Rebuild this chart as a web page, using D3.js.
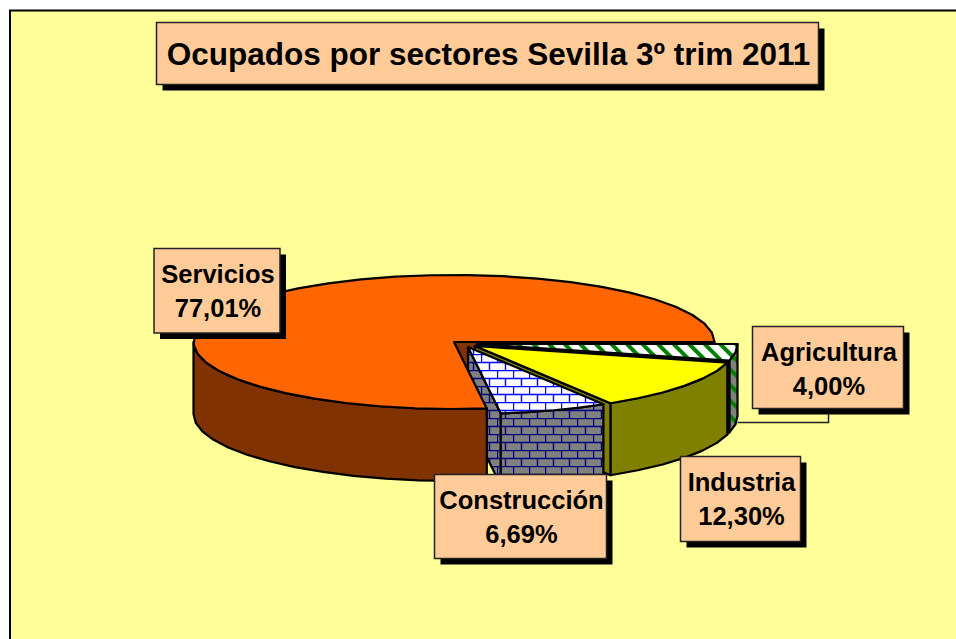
<!DOCTYPE html>
<html lang="es">
<head>
<meta charset="utf-8">
<style>
html,body{margin:0;padding:0;background:#fff;overflow:hidden}
svg{display:block}
text{font-family:"Liberation Sans",Arial,sans-serif;font-weight:bold;fill:#000}
</style>
<script src="https://cdn.jsdelivr.net/npm/d3@7"></script>
</head>
<body>
<script>
// Data, in clockwise order starting from the east side of the pie
const categories = ["Agricultura", "Industria", "Construcción", "Servicios"];
const shares = [4.00, 12.30, 6.69, 77.01];
const chartTitle = "Ocupados por sectores Sevilla 3º trim 2011";

const W = 956, H = 639;
const RX = 260.5, RY = 67, DEPTH = 72;
const apexes = [[477, 344], [475, 346], [468, 347], [454, 342]];
const boxes = [
  {x: 752.5, y: 326.5, w: 151, h: 82},
  {x: 680.5, y: 456.5, w: 120, h: 85},
  {x: 434.5, y: 474.5, w: 172, h: 84},
  {x: 154, y: 248.5, w: 126, h: 84.5}
];
const topFills = ["url(#stripeTop)", "#FFFF00", "url(#brickTop)", "#FF6600"];
const sideFills = ["url(#stripeSide)", "#808000", "url(#brickSide)", "#803300"];

const svg = d3.select("body").append("svg").attr("width", W).attr("height", H);
const defs = svg.append("defs");

function brick(id, bg, line) {
  const p = defs.append("pattern").attr("id", id).attr("patternUnits", "userSpaceOnUse")
    .attr("width", 16).attr("height", 16).attr("x", 1).attr("y", 2);
  p.append("rect").attr("width", 16).attr("height", 16).attr("fill", bg);
  p.append("path").attr("fill", "none").attr("stroke", line).attr("stroke-width", 1.4)
    .attr("d", "M0 0.5H16M0 8.5H16M0.5 0.5V8.5M8.5 8.5V16.5");
}
brick("brickTop", "#FFFFFF", "#0000FF");
brick("brickSide", "#808080", "#000080");

function stripe(id, bg) {
  const p = defs.append("pattern").attr("id", id).attr("patternUnits", "userSpaceOnUse")
    .attr("width", 11).attr("height", 11).attr("patternTransform", "rotate(-45)");
  p.append("rect").attr("width", 11).attr("height", 11).attr("fill", bg);
  p.append("rect").attr("width", 4).attr("height", 11).attr("fill", "#008000");
}
stripe("stripeTop", "#FFFFFF");
stripe("stripeSide", "#808080");

// Backdrop and frame
svg.append("rect").attr("x", 10).attr("y", 10.5).attr("width", W + 20).attr("height", H + 20)
  .attr("fill", "#FFFF99").attr("stroke", "#000").attr("stroke-width", 2);

// Pie layout: d3 angles are clockwise from north, the pie begins due east
const pie = d3.pie().sort(null).value(d => d)
  .startAngle(Math.PI / 2).endAngle(Math.PI / 2 + 2 * Math.PI);
const arcs = pie(shares);

const lineGen = d3.line();
const STEP = 8 * Math.PI / 180;
function angles(a0, a1) {
  const n = Math.max(2, Math.ceil((a1 - a0) / STEP));
  return d3.range(n + 1).map(i => a0 + (a1 - a0) * i / n);
}
function rim(i, a) {
  const [cx, cy] = apexes[i];
  return [cx + RX * Math.sin(a), cy - RY * Math.cos(a)];
}
const down = p => [p[0], p[1] + DEPTH];
const closed = pts => lineGen(pts) + "Z";
const paint = (d, fill) => svg.append("path").attr("d", d).attr("fill", fill)
  .attr("stroke", "#000").attr("stroke-width", 2.2).attr("stroke-linejoin", "round");

function cutFace(i, a) {
  const c = apexes[i], r = rim(i, a);
  paint(closed([c, r, down(r), down(c)]), sideFills[i]);
}
function outerWall(i, a0, a1) {
  const pts = angles(a0, a1).map(a => rim(i, a));
  paint(closed(pts.concat(pts.map(down).reverse())), sideFills[i]);
}
function topFace(i) {
  const pts = angles(arcs[i].startAngle, arcs[i].endAngle).map(a => rim(i, a));
  paint(closed([apexes[i]].concat(pts)), topFills[i]);
}

// Painter's order: Servicios' far cut face, then the small wedges, then Servicios' body
cutFace(3, arcs[3].endAngle);

outerWall(0, arcs[0].startAngle, arcs[0].endAngle);
cutFace(0, arcs[0].endAngle);
topFace(0);

cutFace(1, arcs[1].startAngle);
outerWall(1, arcs[1].startAngle, arcs[1].endAngle);
cutFace(1, arcs[1].endAngle);
topFace(1);

cutFace(2, arcs[2].endAngle);
outerWall(2, arcs[2].startAngle, arcs[2].endAngle);
topFace(2);

outerWall(3, arcs[3].startAngle, 3 * Math.PI / 2);
topFace(3);

// Leader line for Agricultura
const leaderEnd = rim(0, arcs[0].startAngle);
svg.append("path").attr("fill", "none").attr("stroke", "#222").attr("stroke-width", 1.5)
  .attr("d", lineGen([[leaderEnd[0], 422.5], [828.5, 422.5], [828.5, 408]]));

// Boxed text with a hard drop shadow
function box(b, lines, size, gap, baseline) {
  svg.append("rect").attr("x", b.x + 6).attr("y", b.y + 6).attr("width", b.w).attr("height", b.h).attr("fill", "#000");
  svg.append("rect").attr("x", b.x).attr("y", b.y).attr("width", b.w).attr("height", b.h)
    .attr("fill", "#FFCC99").attr("stroke", "#222").attr("stroke-width", 1.5);
  lines.forEach((t, k) => svg.append("text")
    .attr("x", b.x + b.w / 2 + 1).attr("y", b.y + baseline + k * gap)
    .attr("text-anchor", "middle").attr("font-size", size).text(t));
}
const pct = v => v.toFixed(2).replace(".", ",") + "%";
categories.forEach((c, i) => box(boxes[i], [c, pct(shares[i])], 25.5, 34.5, 34));
box({x: 156.5, y: 22.5, w: 662, h: 62}, [chartTitle], 31.5, 0, 42.5);
</script>
</body>
</html>
